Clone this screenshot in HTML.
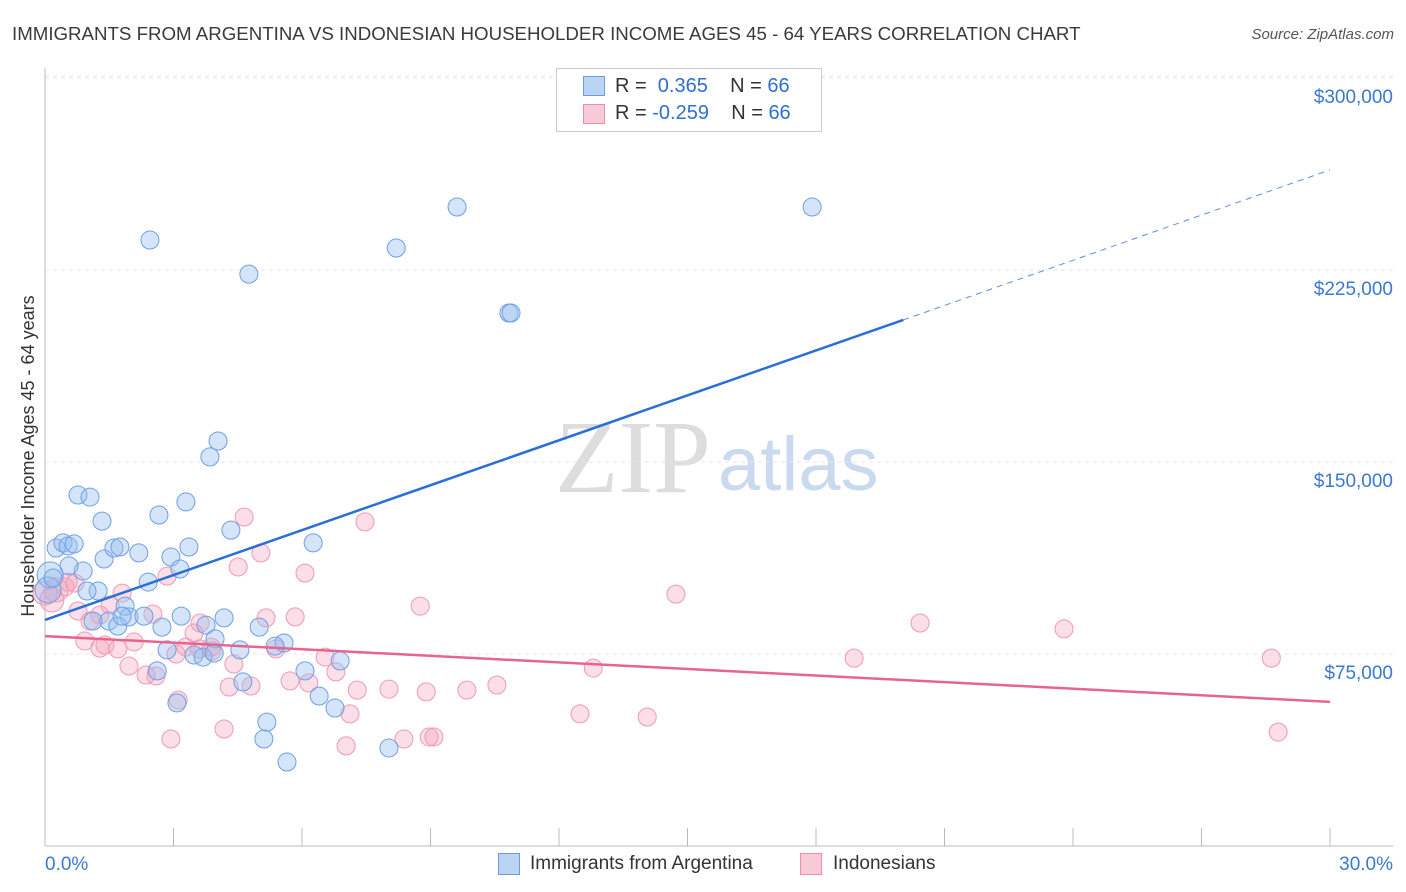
<!DOCTYPE html>
<html><head><meta charset="utf-8"><style>
body{margin:0;background:#fff;font-family:"Liberation Sans",sans-serif;}
#wrap{position:relative;width:1406px;height:892px;}
svg{position:absolute;left:0;top:0}
</style></head><body><div id="wrap">
<svg id="s" width="1406" height="892">
<text x="12" y="40" font-size="18.7" fill="#3a3a3a">IMMIGRANTS FROM ARGENTINA VS INDONESIAN HOUSEHOLDER INCOME AGES 45 - 64 YEARS CORRELATION CHART</text>
<text x="1394" y="39" font-size="15" fill="#555" font-style="italic" text-anchor="end">Source: ZipAtlas.com</text>
<text x="34" y="456" font-size="18" fill="#333" text-anchor="middle" transform="rotate(-90 34 456)">Householder Income Ages 45 - 64 years</text>
<text x="555" y="492" font-size="104" fill="#ddd" font-family="Liberation Serif,serif">ZIP</text>
<text x="718" y="490" font-size="76" fill="#c9daf0">atlas</text>
<g id="grid"></g><g id="pts"></g><g id="lines"></g>
</svg>
<div style="position:absolute;left:556px;top:68px;width:264px;height:62px;border:1px solid #ccc;background:#fff;font-size:20px;color:#333">
<div style="position:absolute;left:26px;top:7px;width:20px;height:18px;background:#bcd4f4;border:1px solid #6b9be0"></div>
<div style="position:absolute;left:58px;top:6px">R = &nbsp;<span style="color:#2f6fd0">0.365</span>&nbsp;&nbsp;&nbsp; N = <span style="color:#2f6fd0">66</span></div>
<div style="position:absolute;left:26px;top:35px;width:20px;height:18px;background:#f8c9d6;border:1px solid #ec8fab"></div>
<div style="position:absolute;left:58px;top:33px">R = <span style="color:#2f6fd0">-0.259</span>&nbsp;&nbsp;&nbsp; N = <span style="color:#2f6fd0">66</span></div>
</div>
<div style="position:absolute;left:498px;top:853px;width:20px;height:20px;background:#bcd4f4;border:1px solid #6b9be0"></div>
<div style="position:absolute;left:530px;top:853px;font-size:19px;color:#333">Immigrants from Argentina</div>
<div style="position:absolute;left:800px;top:853px;width:20px;height:20px;background:#f8c9d6;border:1px solid #ec8fab"></div>
<div style="position:absolute;left:833px;top:853px;font-size:19px;color:#333">Indonesians</div>
</div>
<script>
const yTicks=[75000,150000,225000,300000];
const yTickLabels=["$75,000","$150,000","$225,000","$300,000"];
const xTicks=[0,3,6,9,12,15,18,21,24,27,30];
const blueX=[2.45,4.76,8.20,9.62,17.91,10.83,10.88,4.04,3.85,0.77,1.05,3.29,1.33,2.66,4.34,0.26,0.42,0.54,0.68,1.38,1.61,1.75,2.19,2.94,3.36,6.26,0.89,0.56,2.41,3.15,0.12,1.24,0.98,1.87,3.18,4.18,1.49,1.12,1.96,1.70,2.31,2.73,3.76,5.00,3.97,3.48,3.69,2.85,4.55,5.58,6.07,6.89,2.62,3.95,4.62,6.40,6.77,3.08,5.18,5.11,8.03,5.65,0.07,0.19,1.80,5.37];
const blueY=[236700,223400,233600,249600,249600,208200,208200,158200,152000,137100,136300,134400,126900,129300,123400,116400,118400,117200,118000,112100,116400,116800,114500,112900,116800,118400,107400,109400,103100,108200,105900,99600,99600,93700,89800,89100,87900,87900,89500,85900,89800,85500,86300,85500,80900,74600,73800,76600,76600,79300,68400,72300,68400,75400,64100,58600,53900,55900,48400,41800,38300,32800,100000,104700,89800,78100];
const pinkX=[4.65,7.47,5.04,4.51,6.07,2.85,0.54,0.0,0.26,0.16,1.80,1.52,0.77,8.76,14.73,2.52,5.16,5.84,1.05,3.62,0.93,2.08,1.28,1.70,3.29,3.60,3.06,3.90,5.39,6.54,4.41,1.96,2.36,2.59,12.80,18.89,20.43,23.79,28.63,5.72,6.16,6.79,3.11,4.30,4.81,7.29,8.03,8.90,9.85,10.55,7.12,12.49,14.06,4.18,2.94,7.03,8.38,8.97,9.08,28.79,0.47,0.70,1.28,1.40,3.88,3.48];
const pinkY=[128500,126600,114500,109000,106600,105400,103100,98800,100000,96100,98800,94100,91800,93700,98400,90600,89100,89500,87900,87100,80100,79700,77300,77000,77700,77000,75000,76200,77000,73800,71100,70300,66800,66400,69500,73400,87100,84800,73400,64500,63700,68000,57000,62100,62500,60900,61300,60200,60900,62900,51600,51600,50400,45700,41800,39100,41800,42600,42600,44500,101200,102700,90200,78500,77700,83200];
const blueTrend=[[0,88300],[20.04,205500],[30,264100]];
const pinkTrend=[[0,82000],[30,56300]];
const NS="http://www.w3.org/2000/svg";
const X=v=>45+v/30*1285, Y=v=>846-v/75000*192;
function mk(t,a,p){const e=document.createElementNS(NS,t);for(const k in a)e.setAttribute(k,a[k]);p.appendChild(e);return e;}
const s=document.getElementById('s'),g=document.getElementById('grid'),P=document.getElementById('pts'),L=document.getElementById('lines');
let e=mk('line',{x1:45,y1:Y(300000)-2,x2:1393,y2:Y(300000)-2,stroke:'#e6e6e6','stroke-dasharray':'4,4'},g);
yTicks.forEach((t,i)=>{
 e=mk('line',{x1:45,y1:Y(t),x2:1393,y2:Y(t),stroke:'#e6e6e6','stroke-dasharray':'4,4'},g);
 
 e=mk('text',{x:1393,y:Y(t)+25,'font-size':19,fill:'#3b78d0','text-anchor':'end'},g);e.textContent=yTickLabels[i];
 
});
e=mk('line',{x1:45,y1:68,x2:45,y2:846,stroke:'#bbb'},g);

e=mk('line',{x1:45,y1:846,x2:1393,y2:846,stroke:'#bbb'},g);

xTicks.forEach(t=>{e=mk('line',{x1:X(t),y1:828,x2:X(t),y2:846,stroke:'#bbb'},g);
 });
e=mk('text',{x:45,y:870,'font-size':19,fill:'#3b78d0'},g);e.textContent=xTicks[0].toFixed(1)+'%';

e=mk('text',{x:1393,y:870,'font-size':19,fill:'#3b78d0','text-anchor':'end'},g);e.textContent=xTicks[xTicks.length-1].toFixed(1)+'%';

pinkX.forEach((x,i)=>{e=mk('circle',{cx:X(x),cy:Y(pinkY[i]),r:i<10&&x<0.3?12:9,fill:'rgba(244,160,185,0.35)',stroke:'#f09ab4','stroke-width':1},P);
 });
blueX.forEach((x,i)=>{e=mk('circle',{cx:X(x),cy:Y(blueY[i]),r:(i==30||i==62)?13:9,fill:'rgba(150,190,240,0.4)',stroke:'#6f9fe2','stroke-width':1},P);
 });
e=mk('line',{x1:X(blueTrend[0][0]),y1:Y(blueTrend[0][1]),x2:X(blueTrend[1][0]),y2:Y(blueTrend[1][1]),stroke:'#2a6fd6','stroke-width':2.5},L);

e=mk('line',{x1:X(blueTrend[1][0]),y1:Y(blueTrend[1][1]),x2:X(blueTrend[2][0]),y2:Y(blueTrend[2][1]),stroke:'#5b90de','stroke-width':1,'stroke-dasharray':'6,5'},L);

e=mk('line',{x1:X(pinkTrend[0][0]),y1:Y(pinkTrend[0][1]),x2:X(pinkTrend[1][0]),y2:Y(pinkTrend[1][1]),stroke:'#e8648f','stroke-width':2.5},L);

</script></body></html>
